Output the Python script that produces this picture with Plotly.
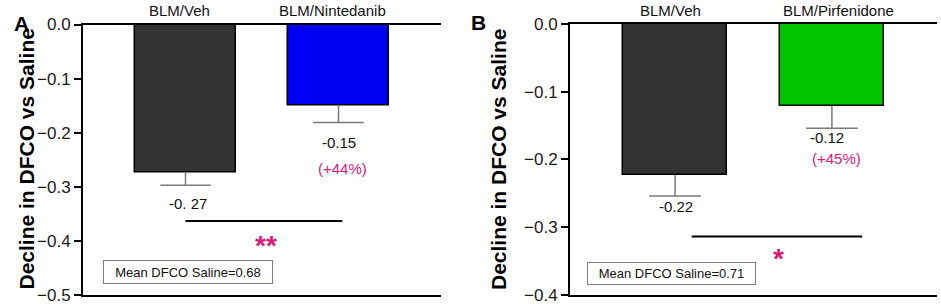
import plotly.graph_objects as go

# ---------------- data ----------------
groups_a = ["BLM/Veh", "BLM/Nintedanib"]
means_a = [-0.273, -0.150]
errs_a = [0.024, 0.031]
value_labels_a = ["-0. 27", "-0.15"]
pct_label_a = "(+44%)"
sig_a = "**"
saline_a = "Mean DFCO Saline=0.68"
yticks_a = [0.0, -0.1, -0.2, -0.3, -0.4, -0.5]

groups_b = ["BLM/Veh", "BLM/Pirfenidone"]
means_b = [-0.223, -0.121]
errs_b = [0.031, 0.033]
value_labels_b = ["-0.22", "-0.12"]
pct_label_b = "(+45%)"
sig_b = "*"
saline_b = "Mean DFCO Saline=0.71"
yticks_b = [0.0, -0.1, -0.2, -0.3, -0.4]

colors_a = ["#333333", "#0000F5"]
colors_b = ["#333333", "#00C400"]

FONT = "Arial, Liberation Sans, sans-serif"
PINK = "#D81B78"
XR = [-0.67, 1.67]
CAP = 0.165

fig = go.Figure()

def add_panel(xref, yref, means, errs, colors):
    xs = list(range(len(means)))
    fig.add_trace(go.Bar(
        x=xs, y=means, width=0.66, marker=dict(color=colors, line=dict(color="black", width=1.5)),
        xaxis=xref, yaxis=yref, showlegend=False, hoverinfo="skip"))
    ex, ey = [], []
    for x, m, e in zip(xs, means, errs):
        ex += [x, x, None, x - CAP, x + CAP, None]
        ey += [m, m - e, None, m - e, m - e, None]
    fig.add_trace(go.Scatter(x=ex, y=ey, mode="lines", line=dict(color="#7a7a7a", width=1.5),
                             xaxis=xref, yaxis=yref, showlegend=False, hoverinfo="skip"))

add_panel("x", "y", means_a, errs_a, colors_a)
add_panel("x2", "y2", means_b, errs_b, colors_b)

axis_common_x = dict(range=XR, showline=True, mirror=True, linecolor="black", linewidth=2,
                     showticklabels=False, ticks="", showgrid=False, zeroline=False,
                     fixedrange=True, automargin=False)
axis_common_y = dict(showline=True, linecolor="black", linewidth=2, ticks="outside", ticklen=7,
                     tickwidth=2, tickcolor="black", showgrid=False, zeroline=False,
                     automargin=False, fixedrange=True, ticklabeloverflow="allow",
                     tickfont=dict(family=FONT, size=17, color="#1a1a1a"), tickformat=".1f")

fig.update_layout(
    template="none",
    width=941, height=304, margin=dict(l=0, r=0, t=0, b=0, pad=0),
    plot_bgcolor="white", paper_bgcolor="white", bargap=0, showlegend=False,
    xaxis=dict(domain=[83/941, 441/941], anchor="y", **axis_common_x),
    yaxis=dict(domain=[1 - 295/304, 1 - 24.5/304], anchor="x", range=[-0.5, 0],
               tickvals=yticks_a, **axis_common_y),
    xaxis2=dict(domain=[570/941, 937/941], anchor="y2", **axis_common_x),
    yaxis2=dict(domain=[1 - 294.7/304, 1 - 24/304], anchor="x2", range=[-0.4, 0],
                tickvals=yticks_b, **axis_common_y),
)

ann = []
def txt(x, y, t, xref, yref, size=15, color="#111", bold=False, **kw):
    d = dict(x=x, y=y, text=("<b>%s</b>" % t if bold else t), xref=xref, yref=yref,
             showarrow=False, font=dict(family=FONT, size=size, color=color),
             xanchor="center", yanchor="middle")
    d.update(kw)
    ann.append(d)

# Panel A
txt(-0.04, 10, groups_a[0], "x", "paper")
txt(0.96, 10, groups_a[1], "x", "paper")
txt(0.016, -0.330, value_labels_a[0], "x", "y")
txt(1.0, -0.219, value_labels_a[1], "x", "y")
txt(1.026, -0.267, pct_label_a, "x", "y", color=PINK)
txt(0.528, -0.408, sig_a, "x", "y", size=28, color=PINK, bold=True)
txt(0.014, -0.457, saline_a, "x", "y", size=13, bordercolor="#808080", borderwidth=1,
    borderpad=2, bgcolor="white", width=164, height=18)
# Panel B
txt(-0.03, 10, groups_b[0], "x2", "paper")
txt(1.04, 10, groups_b[1], "x2", "paper")
txt(0.006, -0.270, value_labels_b[0], "x2", "y2")
txt(0.968, -0.168, value_labels_b[1], "x2", "y2")
txt(1.032, -0.198, pct_label_b, "x2", "y2", color=PINK)
txt(0.662, -0.346, sig_b, "x2", "y2", size=28, color=PINK, bold=True)
txt(-0.023, -0.368, saline_b, "x2", "y2", size=13, bordercolor="#808080", borderwidth=1,
    borderpad=2, bgcolor="white", width=163, height=17)

# category labels: pixels from top -> paper
for a in ann:
    if a["yref"] == "paper":
        a["y"] = 1 - a["y"] / 304

ann.append(dict(x=12/941, y=1 - 10/304, xref="paper", yref="paper", text="<b>A</b>", showarrow=False,
                font=dict(family=FONT, size=21, color="black")))
ann.append(dict(x=478/941, y=1 - 9/304, xref="paper", yref="paper", text="<b>B</b>", showarrow=False,
                font=dict(family=FONT, size=21, color="black")))
for xp in [12, 498]:
    ann.append(dict(x=xp/941, y=1 - 159/304, xref="paper", yref="paper",
                    text="<b>Decline in DFCO vs Saline</b>", textangle=-90, showarrow=False,
                    font=dict(family=FONT, size=21, color="black")))
fig.update_layout(annotations=ann)

# significance lines (data coordinates)
fig.add_shape(type="line", xref="x", yref="y", x0=0, x1=1.025, y0=-0.363, y1=-0.363,
              line=dict(color="black", width=2))
fig.add_shape(type="line", xref="x2", yref="y2", x0=0.106, x1=1.193, y0=-0.314, y1=-0.314,
              line=dict(color="black", width=2))

fig.write_html("out.html", config={"displayModeBar": False},
               post_script="document.body.style.margin='0';document.body.style.padding='0';")
